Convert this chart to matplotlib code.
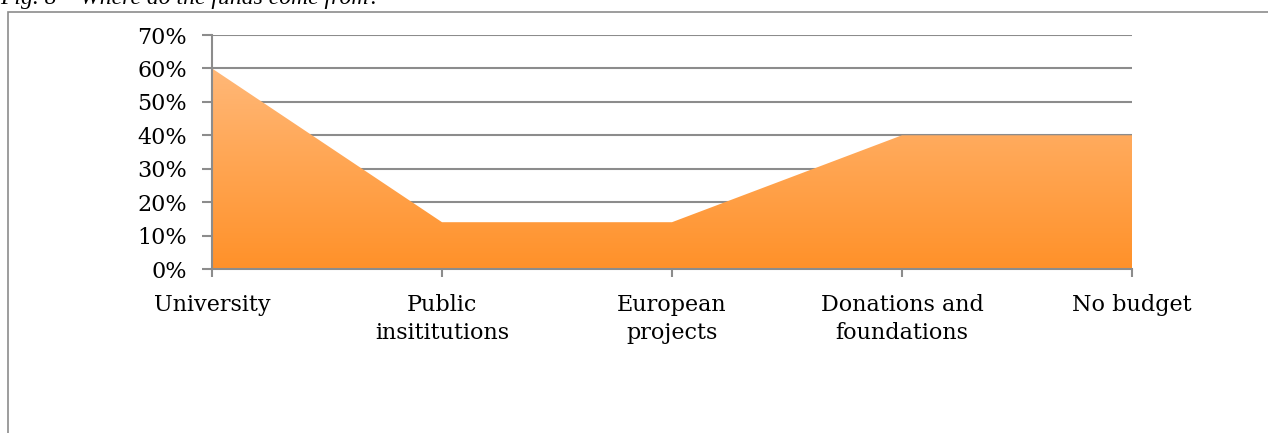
import numpy as np
import matplotlib.pyplot as plt
from matplotlib.patches import Polygon, Rectangle
from matplotlib.colors import LinearSegmentedColormap

# data
categories = ['University', 'Public\ninsititutions', 'European\nprojects',
              'Donations and\nfoundations', 'No budget']
shares = [60, 14, 14, 40, 40]
yticks = [0, 10, 20, 30, 40, 50, 60, 70]

plt.rcParams['font.family'] = ['DejaVu Serif']

W, H = 1268, 433
fig = plt.figure(figsize=(W / 100, H / 100), dpi=100)

# outer frame of the figure box
fig.patches.append(Rectangle((8 / W, -0.1), 1.2, 1 - 12 / H + 0.1, transform=fig.transFigure,
                             fill=False, edgecolor='#8c8c8c', linewidth=1.2))
fig.text(0.0, 1 - 4 / H, 'Fig. 8 \u2013 Where do the funds come from?', fontsize=17,
         style='italic', va='baseline', ha='left', family='Liberation Serif')

left, right = 212 / W, 1132 / W
bottom, top = 1 - 269 / H, 1 - 35 / H
ax = fig.add_axes([left, bottom, right - left, top - bottom])

x = np.arange(len(categories))
ax.set_xlim(0, len(categories) - 1)
ax.set_ylim(0, 70)

# gradient fill under the area
cmap = LinearSegmentedColormap.from_list('org', ['#ff9129', '#ffb878'])
grad = np.linspace(0, 1, 256).reshape(-1, 1)
im = ax.imshow(grad, cmap=cmap, origin='lower', aspect='auto',
               extent=[0, len(categories) - 1, 0, max(shares)], zorder=2)
verts = [(0, 0)] + list(zip(x, shares)) + [(x[-1], 0)]
poly = Polygon(verts, closed=True, facecolor='none', edgecolor='none')
ax.add_patch(poly)
im.set_clip_path(poly)

for t in yticks[1:]:
    ax.axhline(t, color='#8c8c8c', linewidth=1.5, zorder=1)

ax.set_yticks(yticks)
ax.set_yticklabels([f'{t}%' for t in yticks], fontsize=16)
ax.set_xticks(x)
ax.set_xticklabels(categories, fontsize=16, linespacing=1.35)

for s in ['top', 'right']:
    ax.spines[s].set_visible(False)
for s in ['left', 'bottom']:
    ax.spines[s].set_color('#8c8c8c')
    ax.spines[s].set_linewidth(1.5)
ax.tick_params(axis='both', color='#8c8c8c', width=1.5)
ax.tick_params(axis='y', length=7, pad=11)
ax.tick_params(axis='x', length=6, pad=12)

fig.savefig('out.png', dpi=100)
